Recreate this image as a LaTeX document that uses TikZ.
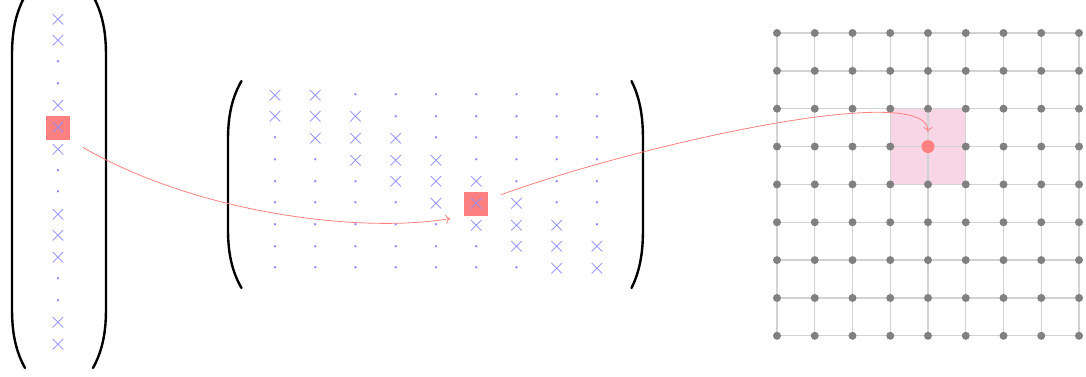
\documentclass[tikz,border=0pt]{standalone}
\usepackage{amsmath}
\usepackage{tikz}
\usetikzlibrary{arrows.meta,backgrounds}

\definecolor{cellpink}{RGB}{248,214,230}

\begin{document}
\begin{tikzpicture}[x=0.75pt, y=0.75pt, >={To[length=3.5pt,width=7pt]}]
	\tikzstyle{paren}=[line width=1.8pt, line cap=round]
	\tikzstyle{entry}=[inner sep=0pt, minimum size=18pt, text=blue!45, font=\fontsize{17}{17}\selectfont]
	\tikzstyle{vertex}=[circle, fill=gray, inner sep=0pt, minimum size=6pt]
	\tikzstyle{hitdot}=[circle, fill=red!50, inner sep=0pt, minimum size=9.75pt]
	\tikzstyle{gridline}=[gray!35, line width=1pt]
	\tikzstyle{link}=[->, red!50, semithick]

	\useasboundingbox (0,0) rectangle (1086,-376);
	\clip (0,0) rectangle (1086,-376);

	% column vector
	\foreach \s [count=\i] in {\times,\times,\cdot,\cdot,\times,\times,\times,\cdot,\cdot,\times,\times,\times,\cdot,\cdot,\times,\times} {
		\ifnum\i=6 \def\fc{red!50}\else\def\fc{none}\fi
		\node (v\i) [entry, fill=\fc] at (58,{-19.5-21.67*(\i-1)}) {$\s$};
	}
	\draw [paren] (25,4) .. controls (14,-16) and (12,-36) .. (12,-56) -- (12,-308) .. controls (12,-328) and (14,-348) .. (25,-368);
	\draw [paren] (93,4) .. controls (104,-16) and (106,-36) .. (106,-56) -- (106,-308) .. controls (106,-328) and (104,-348) .. (93,-368);

	% banded matrix
	\foreach \r in {1,...,9} {
		\foreach \c in {1,...,9} {
			\pgfmathtruncatemacro\d{abs(\r-\c)}
			\ifnum\d<2 \def\s{\times}\else\def\s{\cdot}\fi
			\def\fc{none}
			\ifnum\r=6 \ifnum\c=6 \def\fc{red!50}\fi\fi
			\node (m\r-\c) [entry, fill=\fc] at ({275+40.25*(\c-1)},{-95.5-21.65*(\r-1)}) {$\s$};
		}
	}
	\draw [paren] (241.5,-81) .. controls (230.5,-100) and (228,-120) .. (228,-140) -- (228,-229) .. controls (228,-249) and (230.5,-269) .. (241.5,-288);
	\draw [paren] (631.5,-81) .. controls (641,-100) and (643,-120) .. (643,-140) -- (643,-229) .. controls (643,-249) and (641,-269) .. (631.5,-288);

	% grid
	\foreach \r in {1,...,9} {
		\foreach \c in {1,...,9} {
			\node (g\r-\c) [vertex] at ({777+37.75*(\c-1)},{-33-37.85*(\r-1)}) {};
		}
	}
	\node (hit) [hitdot] at (g4-5) {};
	\begin{scope}[on background layer]
		\fill [cellpink] (g3-4.center) rectangle (g5-6.center);
		\foreach \k in {1,...,9} {
			\draw [gridline] (g\k-1) -- (g\k-9);
			\draw [gridline] (g1-\k) -- (g9-\k);
		}
	\end{scope}

	\draw [link, shorten <=11pt, shorten >=10.5pt] (v6.south east) .. controls +(-30:150) and +(190:100) .. (m6-6.south west);
	\draw [link, shorten <=10pt, shorten >=6pt] (m6-6.20) .. controls +(20:160) and +(90:60) .. (hit.north);
\end{tikzpicture}
\end{document}
